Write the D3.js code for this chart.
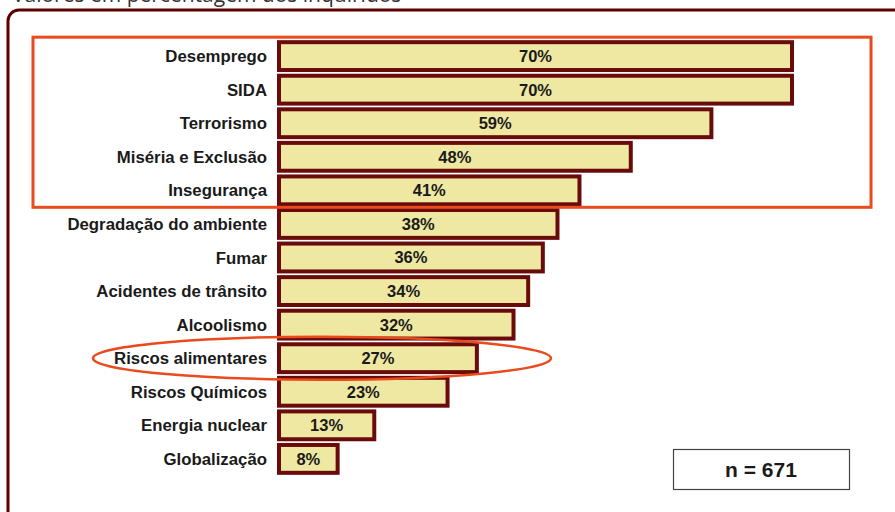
<!DOCTYPE html>
<html lang="pt"><head><meta charset="UTF-8">
<title>Valores em percentagem dos inquiridos</title>
<script src="https://cdn.jsdelivr.net/npm/d3@7"></script>
<style>
  body { margin: 0; background: #fff; }
  text { font-family: "Liberation Sans", Arial, sans-serif; }
</style>
</head>
<body>
<script>
// data
var categories = ["Desemprego", "SIDA", "Terrorismo", "Miséria e Exclusão", "Insegurança",
  "Degradação do ambiente", "Fumar", "Acidentes de trânsito", "Alcoolismo",
  "Riscos alimentares", "Riscos Químicos", "Energia nuclear", "Globalização"];
var values = [70, 70, 59, 48, 41, 38, 36, 34, 32, 27, 23, 13, 8];
var sampleLabel = "n = 671";
var titleText = "Valores em percentagem dos inquiridos";

var w = 895, h = 512;

var svg = d3.select("body").append("svg")
  .attr("width", w)
  .attr("height", h);

// title (cut off at top edge, as in the original)
svg.append("text")
  .attr("x", 12)
  .attr("y", 2)
  .style("font-family", "'Open Sans', sans-serif")
  .attr("font-size", 21)
  .attr("fill", "#333")
  .text(titleText);

// outer frame
svg.append("rect")
  .attr("x", 8).attr("y", 10)
  .attr("width", 1000).attr("height", 600)
  .attr("rx", 11)
  .attr("fill", "none")
  .attr("stroke", "#5c0000")
  .attr("stroke-width", 3);

var x = d3.scaleLinear().domain([0, 70]).range([279, 792]);
var y = d3.scaleBand().domain(categories).range([40.5, 474.5]).paddingInner(0.17).paddingOuter(0.05);

// bars
svg.selectAll("rect.bar")
  .data(categories)
  .enter().append("rect")
  .attr("class", "bar")
  .attr("x", x(0))
  .attr("y", function(d) { return y(d); })
  .attr("width", function(d, i) { return x(values[i]) - x(0); })
  .attr("height", y.bandwidth())
  .attr("fill", "#efe8a2")
  .attr("stroke", "#6a0b0b")
  .attr("stroke-width", 4);

// value labels
svg.selectAll("text.val")
  .data(categories)
  .enter().append("text")
  .attr("class", "val")
  .attr("x", function(d, i) { return (x(0) + x(values[i])) / 2; })
  .attr("y", function(d) { return y(d) + y.bandwidth() / 2; })
  .attr("dy", "0.36em")
  .attr("text-anchor", "middle")
  .attr("font-size", 16.5)
  .attr("font-weight", "bold")
  .attr("fill", "#1a1a1a")
  .text(function(d, i) { return values[i] + "%"; });

// category labels
svg.selectAll("text.cat")
  .data(categories)
  .enter().append("text")
  .attr("class", "cat")
  .attr("x", 267)
  .attr("y", function(d) { return y(d) + y.bandwidth() / 2; })
  .attr("dy", "0.36em")
  .attr("text-anchor", "end")
  .attr("font-size", 16.8)
  .attr("font-weight", "bold")
  .attr("fill", "#1a1a1a")
  .text(function(d) { return d; });

// highlight box around top 5
var top5 = categories.slice(0, 5);
var boxTop = y(top5[0]) - 5;
var boxBottom = y(top5[4]) + y.bandwidth() + 3;
svg.append("rect")
  .attr("x", 33)
  .attr("y", boxTop)
  .attr("width", 838)
  .attr("height", boxBottom - boxTop)
  .attr("fill", "none")
  .attr("stroke", "#ea4a1c")
  .attr("stroke-width", 3);

// ellipse around "Riscos alimentares"
svg.append("ellipse")
  .attr("cx", 322)
  .attr("cy", y("Riscos alimentares") + y.bandwidth() / 2)
  .attr("rx", 229)
  .attr("ry", 21.5)
  .attr("fill", "none")
  .attr("stroke", "#ea4a1c")
  .attr("stroke-width", 2.5);

// sample size box
svg.append("rect")
  .attr("x", 673.5).attr("y", 449.5)
  .attr("width", 176).attr("height", 40)
  .attr("fill", "#fff")
  .attr("stroke", "#444")
  .attr("stroke-width", 1.2);

svg.append("text")
  .attr("x", 761)
  .attr("y", 469.5)
  .attr("dy", "0.36em")
  .attr("text-anchor", "middle")
  .attr("font-size", 21)
  .attr("font-weight", "bold")
  .attr("fill", "#1a1a1a")
  .text(sampleLabel);
</script>
</body></html>
